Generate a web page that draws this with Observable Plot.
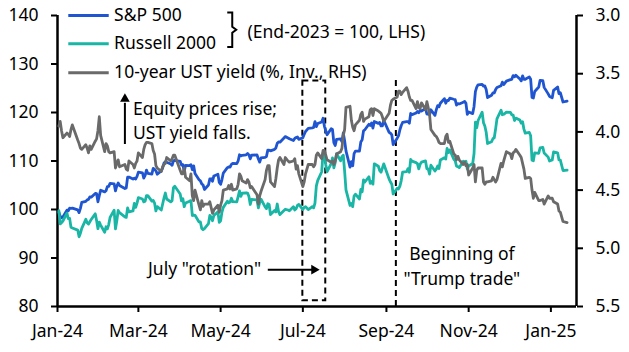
<!DOCTYPE html>
<html><head><meta charset="utf-8">
<script src="https://cdn.jsdelivr.net/npm/d3@7"></script>
<script src="https://cdn.jsdelivr.net/npm/@observablehq/plot@0.6"></script>
<style>body{margin:0;background:#fff}</style>
</head><body><div id="chart"></div>
<script>
// Trading days
const dates = [
"2024-01-02","2024-01-03","2024-01-04","2024-01-05","2024-01-08","2024-01-09","2024-01-10","2024-01-11","2024-01-12","2024-01-16","2024-01-17","2024-01-18","2024-01-19","2024-01-22","2024-01-23","2024-01-24","2024-01-25","2024-01-26","2024-01-29","2024-01-30","2024-01-31",
"2024-02-01","2024-02-02","2024-02-05","2024-02-06","2024-02-07","2024-02-08","2024-02-09","2024-02-12","2024-02-13","2024-02-14","2024-02-15","2024-02-16","2024-02-20","2024-02-21","2024-02-22","2024-02-23","2024-02-26","2024-02-27","2024-02-28","2024-02-29",
"2024-03-01","2024-03-04","2024-03-05","2024-03-06","2024-03-07","2024-03-08","2024-03-11","2024-03-12","2024-03-13","2024-03-14","2024-03-15","2024-03-18","2024-03-19","2024-03-20","2024-03-21","2024-03-22","2024-03-25","2024-03-26","2024-03-27","2024-03-28",
"2024-04-01","2024-04-02","2024-04-03","2024-04-04","2024-04-05","2024-04-08","2024-04-09","2024-04-10","2024-04-11","2024-04-12","2024-04-15","2024-04-16","2024-04-17","2024-04-18","2024-04-19","2024-04-22","2024-04-23","2024-04-24","2024-04-25","2024-04-26","2024-04-29","2024-04-30",
"2024-05-01","2024-05-02","2024-05-03","2024-05-06","2024-05-07","2024-05-08","2024-05-09","2024-05-10","2024-05-13","2024-05-14","2024-05-15","2024-05-16","2024-05-17","2024-05-20","2024-05-21","2024-05-22","2024-05-23","2024-05-24","2024-05-28","2024-05-29","2024-05-30","2024-05-31",
"2024-06-03","2024-06-04","2024-06-05","2024-06-06","2024-06-07","2024-06-10","2024-06-11","2024-06-12","2024-06-13","2024-06-14","2024-06-17","2024-06-18","2024-06-20","2024-06-21","2024-06-24","2024-06-25","2024-06-26","2024-06-27","2024-06-28",
"2024-07-01","2024-07-02","2024-07-03","2024-07-05","2024-07-08","2024-07-09","2024-07-10","2024-07-11","2024-07-12","2024-07-15","2024-07-16","2024-07-17","2024-07-18","2024-07-19","2024-07-22","2024-07-23","2024-07-24","2024-07-25","2024-07-26","2024-07-29","2024-07-30","2024-07-31",
"2024-08-01","2024-08-02","2024-08-05","2024-08-06","2024-08-07","2024-08-08","2024-08-09","2024-08-12","2024-08-13","2024-08-14","2024-08-15","2024-08-16","2024-08-19","2024-08-20","2024-08-21","2024-08-22","2024-08-23","2024-08-26","2024-08-27","2024-08-28","2024-08-29","2024-08-30",
"2024-09-03","2024-09-04","2024-09-05","2024-09-06","2024-09-09","2024-09-10","2024-09-11","2024-09-12","2024-09-13","2024-09-16","2024-09-17","2024-09-18","2024-09-19","2024-09-20","2024-09-23","2024-09-24","2024-09-25","2024-09-26","2024-09-27","2024-09-30",
"2024-10-01","2024-10-02","2024-10-03","2024-10-04","2024-10-07","2024-10-08","2024-10-09","2024-10-10","2024-10-11","2024-10-14","2024-10-15","2024-10-16","2024-10-17","2024-10-18","2024-10-21","2024-10-22","2024-10-23","2024-10-24","2024-10-25","2024-10-28","2024-10-29","2024-10-30","2024-10-31",
"2024-11-01","2024-11-04","2024-11-05","2024-11-06","2024-11-07","2024-11-08","2024-11-11","2024-11-12","2024-11-13","2024-11-14","2024-11-15","2024-11-18","2024-11-19","2024-11-20","2024-11-21","2024-11-22","2024-11-25","2024-11-26","2024-11-27","2024-11-29",
"2024-12-02","2024-12-03","2024-12-04","2024-12-05","2024-12-06","2024-12-09","2024-12-10","2024-12-11","2024-12-12","2024-12-13","2024-12-16","2024-12-17","2024-12-18","2024-12-19","2024-12-20","2024-12-23","2024-12-24","2024-12-26","2024-12-27","2024-12-30","2024-12-31",
"2025-01-02","2025-01-03","2025-01-06","2025-01-07","2025-01-08","2025-01-10","2025-01-13"
];
// S&P 500 closing levels
const spx = [
4743,4705,4689,4697,4764,4757,4784,4780,4784,4766,4739,4781,4840,4850,4865,4869,4894,4891,4928,4925,4846,
4906,4959,4943,4954,4995,4998,5027,5022,4953,5001,5030,5006,4976,4982,5087,5089,5070,5078,5070,5096,
5137,5131,5079,5105,5157,5124,5118,5175,5165,5150,5117,5149,5179,5225,5241,5234,5218,5204,5248,5254,
5244,5206,5211,5147,5204,5202,5210,5161,5199,5123,5062,5051,5022,5011,4967,5011,5071,5072,5048,5100,5116,5036,
5018,5064,5128,5181,5188,5187,5214,5223,5221,5247,5308,5297,5303,5308,5321,5307,5268,5305,5306,5267,5236,5278,
5283,5291,5354,5353,5347,5361,5375,5421,5434,5432,5473,5487,5473,5465,5448,5469,5478,5483,5460,
5475,5509,5537,5567,5573,5577,5634,5585,5615,5631,5667,5588,5545,5505,5564,5556,5427,5399,5459,5464,5436,5522,
5447,5347,5186,5240,5200,5319,5344,5344,5434,5455,5543,5554,5608,5597,5621,5571,5635,5617,5626,5592,5592,5648,
5529,5520,5503,5408,5471,5496,5554,5596,5626,5633,5635,5618,5714,5703,5719,5733,5722,5745,5738,5762,
5709,5710,5700,5751,5696,5751,5792,5780,5815,5860,5815,5843,5841,5865,5854,5851,5797,5810,5808,5824,5833,5814,5705,
5729,5713,5783,5929,5973,5996,6001,5984,5985,5949,5871,5894,5917,5917,5949,5969,5987,6022,5999,6032,
6047,6050,6087,6075,6090,6053,6035,6084,6051,6051,6074,6051,5872,5867,5931,5974,6040,6038,5971,5907,5882,
5869,5942,5975,5909,5918,5827,5836
];
// Russell 2000 closing levels
const rut = [
2022,1967,1972,1979,2012,1989,1990,1953,1950,1941,1913,1928,1948,1986,1972,1966,1976,1985,2009,1981,1947,
1974,1962,1932,1955,1946,1964,1994,2024,1946,1980,2023,2014,1996,1994,2034,2017,2021,2053,2036,2054,
2077,2071,2059,2062,2085,2085,2062,2065,2054,2021,2039,2025,2050,2075,2096,2071,2059,2064,2118,2124,
2092,2063,2072,2039,2054,2062,2064,2002,2004,2003,1975,1975,1948,1943,1947,1968,2002,1995,1980,2002,2017,1973,
1980,2016,2036,2062,2055,2058,2074,2060,2059,2081,2105,2082,2095,2097,2096,2081,2048,2069,2067,2034,2056,2070,
2038,2031,2051,2048,2006,2023,2017,2050,2018,2006,2023,2028,2025,2022,2039,2025,2030,2044,2048,
2027,2036,2039,2027,2039,2034,2054,2125,2148,2185,2264,2258,2215,2185,2219,2243,2201,2223,2260,2231,2248,2254,
2186,2109,2044,2052,2039,2083,2091,2071,2111,2101,2151,2142,2164,2136,2144,2133,2218,2208,2190,2183,2200,2218,
2154,2142,2133,2092,2116,2113,2125,2148,2183,2185,2198,2183,2236,2229,2223,2219,2197,2216,2225,2230,
2197,2197,2175,2212,2188,2196,2209,2198,2234,2243,2238,2282,2265,2276,2237,2231,2208,2206,2202,2229,2225,2229,2196,
2209,2219,2261,2392,2369,2399,2434,2390,2376,2350,2303,2310,2323,2327,2364,2406,2442,2423,2425,2434,
2433,2423,2422,2399,2409,2401,2388,2394,2363,2346,2349,2335,2233,2231,2264,2262,2285,2287,2263,2246,2230,
2234,2268,2264,2234,2233,2190,2192
];
// 10-year UST yield, %
const ust10y = [
3.95,3.91,3.99,4.05,4.01,4.02,4.04,3.98,3.94,4.07,4.10,4.14,4.15,4.11,4.14,4.18,4.12,4.15,4.08,4.06,3.99,
3.87,4.03,4.17,4.10,4.12,4.17,4.18,4.17,4.31,4.27,4.24,4.30,4.28,4.32,4.33,4.25,4.28,4.31,4.27,4.25,
4.18,4.22,4.15,4.11,4.09,4.09,4.10,4.16,4.19,4.29,4.31,4.34,4.30,4.28,4.27,4.22,4.25,4.23,4.20,4.20,
4.33,4.36,4.36,4.31,4.39,4.42,4.36,4.55,4.59,4.50,4.63,4.67,4.59,4.64,4.62,4.62,4.60,4.65,4.70,4.67,4.63,4.69,
4.63,4.59,4.50,4.49,4.46,4.49,4.45,4.50,4.49,4.45,4.36,4.38,4.42,4.44,4.41,4.43,4.48,4.47,4.54,4.62,4.55,4.51,
4.41,4.33,4.29,4.29,4.43,4.47,4.40,4.31,4.24,4.22,4.28,4.22,4.25,4.26,4.25,4.23,4.32,4.29,4.36,
4.47,4.43,4.36,4.28,4.28,4.30,4.28,4.20,4.18,4.23,4.16,4.16,4.20,4.24,4.26,4.25,4.28,4.25,4.19,4.17,4.14,4.03,
3.98,3.79,3.78,3.90,3.96,3.99,3.94,3.90,3.85,3.83,3.91,3.89,3.87,3.81,3.80,3.86,3.80,3.82,3.83,3.84,3.87,3.91,
3.84,3.77,3.73,3.72,3.70,3.65,3.65,3.68,3.66,3.62,3.65,3.70,3.73,3.73,3.80,3.74,3.79,3.80,3.75,3.81,
3.74,3.79,3.85,3.98,4.03,4.04,4.06,4.09,4.10,4.10,4.04,4.02,4.09,4.08,4.19,4.20,4.24,4.21,4.24,4.28,4.26,4.29,4.28,
4.37,4.31,4.28,4.43,4.33,4.31,4.31,4.43,4.45,4.43,4.43,4.42,4.39,4.41,4.43,4.41,4.27,4.30,4.25,4.17,
4.19,4.23,4.18,4.17,4.15,4.20,4.22,4.27,4.32,4.40,4.39,4.40,4.50,4.57,4.52,4.59,4.59,4.58,4.62,4.55,4.57,
4.57,4.60,4.62,4.68,4.69,4.77,4.78
];
const spxBase = 4769.83; // end-2023 close
const rutBase = 2027.07; // end-2023 close

const leftTicks = [80, 90, 100, 110, 120, 130, 140];
const rightTicks = [3.0, 3.5, 4.0, 4.5, 5.0, 5.5];
const xTicks = ["2024-01-01","2024-03-01","2024-05-01","2024-07-01","2024-09-01","2024-11-01","2025-01-01"];
const seriesNames = ["S&P 500", "Russell 2000", "10-year UST yield (%, Inv., RHS)"];
const colors = ["#1f55d0", "#19b5a5", "#6a6a6a"];

// Right axis (inverted yield, 3.0 at top to 5.5 at bottom) mapped onto left scale (140..80)
const yLeft = v => 140 - (v - 3) * 24;
const yFromLeft = v => 3 + (140 - v) / 24;

const rows = dates.map((d, i) => ({
  date: new Date(d),
  spx: spx[i] / spxBase * 100,
  rut: rut[i] / rutBase * 100,
  y10: yLeft(ust10y[i])
}));

const D = s => new Date(s);
const FONT = "'Noto Sans', sans-serif";
const FS = 17.5;
const TFS = 17.5;
const legendY = [140, 134.2, 128.2];

const chart = Plot.plot({
  width: 629, height: 352,
  marginLeft: 57, marginRight: 53, marginTop: 15, marginBottom: 46,
  style: {fontFamily: FONT, fontSize: FS + "px", color: "#000", background: "#fff", overflow: "visible"},
  x: {type: "utc", domain: [D("2024-01-01"), D("2025-01-20")]},
  y: {domain: [80, 140]},
  marks: [
    Plot.axisY(leftTicks, {anchor: "left", tickSize: 6, tickPadding: 13, strokeWidth: 2, fontSize: TFS, label: null}),
    Plot.axisY(rightTicks.map(yLeft), {anchor: "right", tickSize: 6, tickPadding: 13, strokeWidth: 2, fontSize: TFS, label: null,
      tickFormat: v => yFromLeft(v).toFixed(1)}),
    Plot.axisX(xTicks.map(D), {anchor: "bottom", tickSize: 6, tickPadding: 12, strokeWidth: 2, fontSize: TFS, label: null,
      tickFormat: d3.utcFormat("%b-%y")}),
    Plot.ruleX([D("2024-01-01"), D("2025-01-20")], {stroke: "#000", strokeWidth: 2.5}),
    Plot.ruleY([80], {stroke: "#000", strokeWidth: 2.5}),
    // annotations
    Plot.rect([0], {x1: D("2024-07-01"), x2: D("2024-07-18"), y1: 81.2, y2: 126.5, fill: "none", stroke: "#000", strokeWidth: 2, strokeDasharray: "6,4"}),
    Plot.ruleX([D("2024-09-08")], {y1: 80, y2: 126.6, stroke: "#000", strokeWidth: 2, strokeDasharray: "6,4"}),
    // series
    Plot.lineY(rows, {x: "date", y: "spx", stroke: colors[0], strokeWidth: 2.8}),
    Plot.lineY(rows, {x: "date", y: "rut", stroke: colors[1], strokeWidth: 2.8}),
    Plot.lineY(rows, {x: "date", y: "y10", stroke: colors[2], strokeWidth: 2.8}),
    // legend
    Plot.link(seriesNames, {x1: () => D("2024-01-09"), x2: () => D("2024-02-08"), y1: (d, i) => legendY[i], y2: (d, i) => legendY[i],
      stroke: (d, i) => colors[i], strokeWidth: 3}),
    Plot.text(seriesNames, {x: () => D("2024-02-12"), y: (d, i) => legendY[i], text: d => d, textAnchor: "start", fontSize: FS, fill: "#000"}),
    Plot.text(["(End-2023 = 100, LHS)"], {x: () => D("2024-05-21"), y: () => 136.6, textAnchor: "start", fontSize: FS, fill: "#000"}),
    // up arrow + text
    Plot.link([0], {x1: D("2024-02-20"), x2: D("2024-02-20"), y1: 113.5, y2: 122, stroke: "#000", strokeWidth: 2}),
    Plot.dot([0], {x: D("2024-02-20"), y: 122.8, symbol: "triangle", r: 3.6, fill: "#000", stroke: "none"}),
    Plot.text(["Equity prices rise;\nUST yield falls."], {x: () => D("2024-02-26"), y: () => 118.6, textAnchor: "start", lineHeight: 1.4, fontSize: FS, fill: "#000"}),
    // July rotation arrow + text
    Plot.text(["July \"rotation\""], {x: () => D("2024-05-31"), y: () => 87.6, textAnchor: "end", fontSize: FS, fill: "#000"}),
    Plot.link([0], {x1: D("2024-06-05"), x2: D("2024-07-08"), y1: 87.6, y2: 87.6, stroke: "#000", strokeWidth: 2}),
    Plot.dot([0], {x: D("2024-07-09T08:00"), y: 87.6, symbol: "triangle", r: 3.6, rotate: 90, fill: "#000", stroke: "none"}),
    // Trump trade text
    Plot.text(["Beginning of\n\"Trump trade\""], {x: () => D("2024-10-27"), y: () => 88.7, textAnchor: "middle", lineHeight: 1.45, fontSize: FS, fill: "#000"})
  ]
});

// brace grouping the two equity series
const X = chart.scale("x"), Y = chart.scale("y");
const bx = X.apply(D("2024-05-10")), bt = Y.apply(140.5), bb = Y.apply(133.4), bm = (bt + bb) / 2;
d3.select(chart).append("path")
  .attr("d", `M${bx - 5},${bt} H${bx} V${bm - 3} L${bx + 4},${bm} L${bx},${bm + 3} V${bb} H${bx - 5}`)
  .attr("fill", "none").attr("stroke", "#000").attr("stroke-width", 2);

document.getElementById("chart").appendChild(chart);
</script>
</body></html>
